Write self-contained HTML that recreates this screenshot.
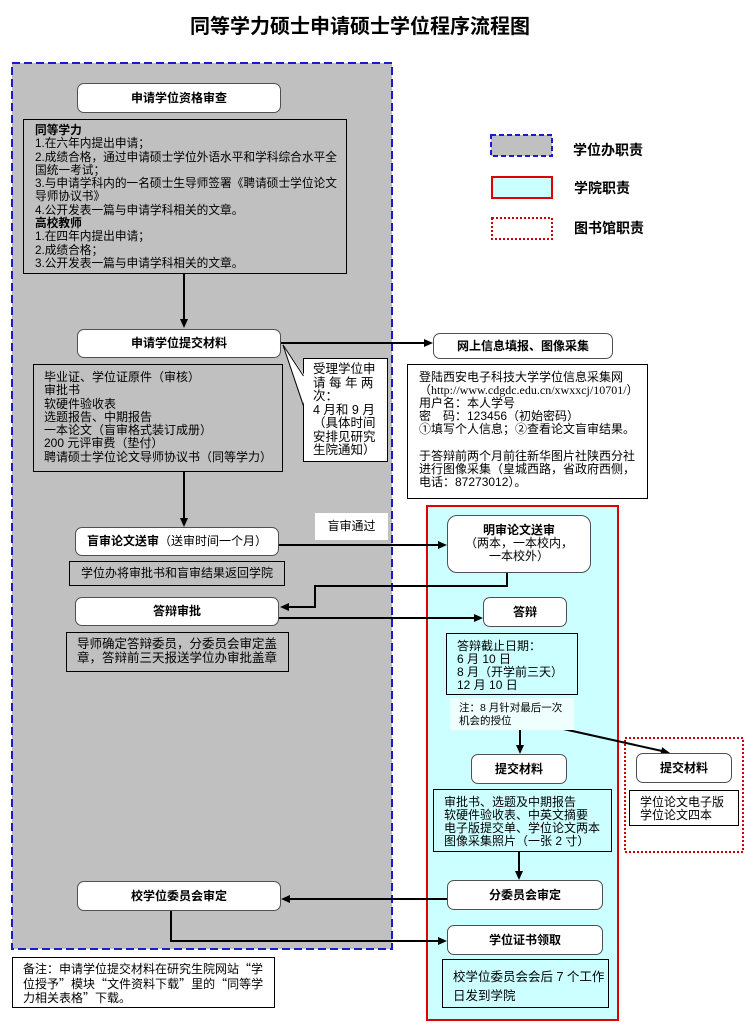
<!DOCTYPE html>
<html><head><meta charset="utf-8">
<style>
*{margin:0;padding:0;box-sizing:border-box}
body{width:745px;height:1031px;background:#fff;position:relative;overflow:hidden;font-family:"Liberation Sans","Noto Sans CJK SC",sans-serif;color:#000}
.a{position:absolute}
.rb{position:absolute;background:#fff;border:1.5px solid #505050;border-radius:7px;display:flex;align-items:center;justify-content:center;font-weight:bold;font-size:12px;white-space:nowrap;text-align:center;line-height:13px}
.tb{position:absolute;border:1px solid #000;font-size:12px;line-height:13.3px;white-space:nowrap}
.g{background:#c0c0c0}
.c{background:#ccffff}
.w{background:#fff}
.lg{position:absolute;font-weight:bold;font-size:14px;line-height:16px;white-space:nowrap}
.q{font-family:"Noto Sans CJK SC",sans-serif}
</style></head><body>

<div class="a" style="left:190px;top:14px;font-size:20px;font-weight:bold;line-height:26px;white-space:nowrap">同等学力硕士申请硕士学位程序流程图</div>

<svg class="a" style="left:0;top:0" width="745" height="1031" viewBox="0 0 745 1031">
  <rect x="12" y="63" width="380" height="886" fill="#c0c0c0" stroke="#1a1ad0" stroke-width="2" stroke-dasharray="8,4"/>
  <rect x="427" y="506" width="191" height="514" fill="#ccffff" stroke="#e00000" stroke-width="2"/>
  <rect x="625" y="738" width="118" height="114" fill="#fff" stroke="#cc0000" stroke-width="2" stroke-dasharray="2,2"/>
  <!-- legend -->
  <rect x="491" y="135" width="61" height="21" fill="#c0c0c0" stroke="#1a1ad0" stroke-width="2" stroke-dasharray="5,3"/>
  <rect x="492" y="177" width="60" height="21" fill="#ccffff" stroke="#e00000" stroke-width="2"/>
  <rect x="492" y="218" width="60" height="21" fill="#fff" stroke="#cc0000" stroke-width="2" stroke-dasharray="2,2"/>

  <g stroke="#000" stroke-width="2" fill="none">
    <line x1="184" y1="274" x2="184" y2="320"/>
    <line x1="281" y1="343" x2="425" y2="343"/>
    <line x1="184" y1="472" x2="184" y2="519"/>
    <line x1="279" y1="545" x2="439" y2="545"/>
    <polyline points="507,573 507,586 315,586 315,607 288,607"/>
    <line x1="279" y1="618" x2="475" y2="618"/>
    <line x1="520" y1="723" x2="520" y2="746"/>
    <line x1="532" y1="722" x2="662" y2="751"/>
    <line x1="519" y1="851" x2="519" y2="872"/>
    <line x1="447" y1="899" x2="289" y2="899"/>
    <polyline points="171,911 171,941 439,941"/>
  </g>
  <g fill="#000">
    <polygon points="180,319 188,319 184,328"/>
    <polygon points="424,339 424,347 433,343"/>
    <polygon points="180,518 188,518 184,527"/>
    <polygon points="438,541 438,549 447,545"/>
    <polygon points="289,603 289,611 280,607"/>
    <polygon points="474,614 474,622 483,618"/>
    <polygon points="516,745 524,745 520,754"/>
    <polygon points="660.3,754.9 662.1,747.1 670,753"/>
    <polygon points="515,871 523,871 519,880"/>
    <polygon points="290,895 290,903 281,899"/>
    <polygon points="438,937 438,945 447,941"/>
  </g>

  <!-- callout -->
  <rect x="303.5" y="358.5" width="84" height="103" fill="#fff" stroke="#000" stroke-width="1"/>
  <polygon points="283,345 304.5,375 304.5,406" fill="#fff"/>
  <line x1="283" y1="345" x2="303.5" y2="376" stroke="#000" stroke-width="1"/>
  <line x1="283" y1="345" x2="303.5" y2="406" stroke="#000" stroke-width="1"/>
</svg>

<!-- legend text -->
<div class="lg" style="left:573px;top:142px">学位办职责</div>
<div class="lg" style="left:574px;top:180px">学院职责</div>
<div class="lg" style="left:574px;top:220px">图书馆职责</div>

<!-- rounded boxes -->
<div class="rb" style="left:77px;top:83px;width:204px;height:30px">申请学位资格审查</div>
<div class="rb" style="left:77px;top:329px;width:204px;height:29px">申请学位提交材料</div>
<div class="rb" style="left:433px;top:333px;width:180px;height:26px">网上信息填报、图像采集</div>
<div class="rb" style="left:75px;top:527px;width:204px;height:29px">盲审论文送审<span style="font-weight:normal">（送审时间一个月）</span></div>
<div class="rb" style="left:75px;top:597px;width:204px;height:29px">答辩审批</div>
<div class="rb" style="left:447px;top:515px;width:144px;height:58px;border-radius:10px;display:block;padding-top:8px">明审论文送审<br><span style="font-weight:normal">（两本，一本校内，<br>一本校外）</span></div>
<div class="rb" style="left:483px;top:597px;width:84px;height:30px">答辩</div>
<div class="rb" style="left:471px;top:754px;width:96px;height:30px">提交材料</div>
<div class="rb" style="left:636px;top:753px;width:96px;height:30px">提交材料</div>
<div class="rb" style="left:447px;top:880px;width:156px;height:30px">分委员会审定</div>
<div class="rb" style="left:77px;top:881px;width:204px;height:30px">校学位委员会审定</div>
<div class="rb" style="left:447px;top:925px;width:156px;height:30px">学位证书领取</div>

<!-- text boxes -->
<div class="tb g" style="left:23px;top:119px;width:324px;height:155px;padding:4px 0 0 11px;font-size:11.7px"><b>同等学力</b><br>1.在六年内提出申请；<br>2.成绩合格，通过申请硕士学位外语水平和学科综合水平全<br>国统一考试；<br>3.与申请学科内的一名硕士生导师签署《聘请硕士学位论文<br>导师协议书》<br>4.公开发表一篇与申请学科相关的文章。<br><b>高校教师</b><br>1.在四年内提出申请；<br>2.成绩合格；<br>3.公开发表一篇与申请学科相关的文章。</div>

<div class="tb g" style="left:33px;top:364px;width:250px;height:108px;padding:6px 0 0 10px">毕业证、学位证原件（审核）<br>审批书<br>软硬件验收表<br>选题报告、中期报告<br>一本论文（盲审格式装订成册）<br>200 元评审费（垫付）<br>聘请硕士学位论文导师协议书（同等学力）</div>

<div class="a" style="left:313px;top:363px;font-size:12.5px;line-height:13.5px;white-space:nowrap">受理学位申<br>请&nbsp;每&nbsp;年&nbsp;两<br>次：<br>4 月和 9 月<br>（具体时间<br>安排见研究<br>生院通知）</div>

<div class="tb w" style="left:407px;top:364px;width:241px;height:135px;padding:6px 0 0 11px;line-height:13.1px">登陆西安电子科技大学学位信息采集网<br><span style="font-family:'Liberation Serif','Noto Sans CJK SC',serif">（http://www.cdgdc.edu.cn/xwxxcj/10701/）</span><br>用户名：本人学号<br>密　码：123456（初始密码）<br>①填写个人信息；②查看论文盲审结果。<br>&nbsp;<br>于答辩前两个月前往新华图片社陕西分社<br>进行图像采集（皇城西路，省政府西侧，<br>电话：87273012）。</div>

<div class="tb g" style="left:69px;top:561px;width:216px;height:25px;text-align:center;line-height:23px">学位办将审批书和盲审结果返回学院</div>

<div class="a" style="left:315px;top:513px;width:73px;height:27px;background:#fff;font-size:12px;line-height:27px;text-align:center">盲审通过</div>

<div class="tb g" style="left:66px;top:632px;width:223px;height:40px;padding:4px 0 0 10px;font-size:12.5px;line-height:14px">导师确定答辩委员，分委员会审定盖<br>章，答辩前三天报送学位办审批盖章</div>

<div class="tb c" style="left:446px;top:633px;width:132px;height:62px;padding:6px 0 0 10px;line-height:13px">答辩截止日期：<br>6 月 10 日<br>8 月（开学前三天）<br>12 月 10 日</div>

<div class="a" style="left:450px;top:698px;width:124px;height:32px;background:#eefffe;font-size:10.5px;line-height:13px;padding:4px 0 0 9px;white-space:nowrap">注：8 月针对最后一次<br>机会的授位</div>

<div class="tb c" style="left:433px;top:789px;width:179px;height:63px;padding:6px 0 0 10px;line-height:13px">审批书、选题及中期报告<br>软硬件验收表、中英文摘要<br>电子版提交单、学位论文两本<br>图像采集照片（一张 2 寸）</div>

<div class="tb w" style="left:629px;top:790px;width:110px;height:36px;padding:5px 0 0 10px;line-height:13px">学位论文电子版<br>学位论文四本</div>

<div class="tb c" style="left:442px;top:959px;width:167px;height:49px;padding:8px 0 0 10px;font-size:12.5px;line-height:19px">校学位委员会会后 7 个工作<br>日发到学院</div>

<div class="tb w" style="left:12px;top:957px;width:263px;height:51px;padding:4px 0 0 10px;line-height:14.5px">备注：申请学位提交材料在研究生院网站<span class="q">“</span>学<br>位授予<span class="q">”</span>模块<span class="q">“</span>文件资料下载<span class="q">”</span>里的<span class="q">“</span>同等学<br>力相关表格<span class="q">”</span>下载。</div>

</body></html>
